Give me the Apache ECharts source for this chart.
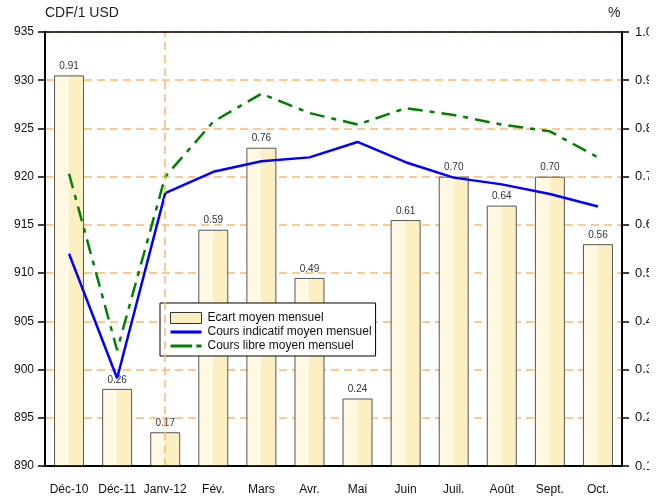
<!DOCTYPE html>
<html>
<head>
<meta charset="utf-8">
<script src="https://cdn.jsdelivr.net/npm/echarts@6/dist/echarts.min.js"></script>
<style>
  html, body { margin: 0; padding: 0; background: #fff; }
  #chart { width: 649px; height: 503px; }
</style>
</head>
<body>
<div id="chart"></div>
<script>
// mois
const categories = ['Déc-10', 'Déc-11', 'Janv-12', 'Fév.', 'Mars', 'Avr.', 'Mai', 'Juin', 'Juil.', 'Août', 'Sept.', 'Oct.']
// écart moyen mensuel (%), axe de droite
const ecart = [0.91, 0.26, 0.17, 0.59, 0.76, 0.49, 0.24, 0.61, 0.70, 0.64, 0.70, 0.56]
// CDF/1 USD, axe de gauche
const coursIndicatif = [912.0, 899.1, 918.3, 920.5, 921.6, 922.0, 923.6, 921.5, 919.9, 919.2, 918.2, 916.9]
const coursLibre = [920.3, 902.0, 920.0, 925.7, 928.6, 926.6, 925.4, 927.1, 926.4, 925.4, 924.7, 922.0]

const font = 'Liberation Sans, Arial, sans-serif'
const gridColor = '#ffb866'

const chart = echarts.init(document.getElementById('chart'), null, { renderer: 'canvas' })

chart.setOption({
  animation: false,
  backgroundColor: '#fff',
  textStyle: { fontFamily: font },
  grid: { left: 45, right: 27, top: 32, bottom: 37, outerBoundsMode: 'none' },
  graphic: [
    { type: 'text', left: 45, top: 6, style: { text: 'CDF/1 USD', font: '14px ' + font, fill: '#222' } },
    { type: 'text', left: 608, top: 6, style: { text: '%', font: '14px ' + font, fill: '#222' } },
    // cadre : trait du haut et de droite
    { type: 'rect', shape: { x: 45, y: 32, width: 577, height: 434 }, style: { fill: 'none', stroke: '#000', lineWidth: 1.5 }, z: 10, silent: true },
  ],
  legend: {
    orient: 'vertical',
    left: 160,
    top: 303,
    backgroundColor: '#fff',
    borderColor: '#000',
    borderWidth: 1,
    borderRadius: 0,
    padding: [9, 4, 4, 10],
    itemGap: 2,
    itemWidth: 31,
    itemHeight: 11,
    textStyle: { fontFamily: font, fontSize: 12, color: '#111', padding: [0, 0, 0, 1] },
    data: [
      { name: 'Ecart moyen mensuel', icon: 'rect', itemStyle: { color: '#fcf0c3', borderColor: '#333', borderWidth: 1 } },
      { name: 'Cours indicatif moyen mensuel', icon: 'path://M0,4L30,4L30,7L0,7Z' },
      { name: 'Cours libre moyen mensuel', icon: 'path://M0,4L21,4L21,7L0,7ZM25,4L30,4L30,7L25,7Z' },
    ],
  },
  xAxis: {
    type: 'category',
    data: categories,
    axisLine: { lineStyle: { color: '#000', width: 2 } },
    axisTick: { show: false },
    axisLabel: { color: '#111', fontSize: 12, margin: 18, fontFamily: font, interval: 0 },
    splitLine: { show: false },
  },
  yAxis: [
    {
      type: 'value',
      min: 890,
      max: 935,
      interval: 5,
      axisLine: { show: true, lineStyle: { color: '#000', width: 2 } },
      axisTick: { show: true, length: 7, lineStyle: { color: '#000', width: 1.5 } },
      axisLabel: { color: '#111', fontSize: 12, margin: 11, fontFamily: font },
      splitLine: { show: true, lineStyle: { color: gridColor, type: [8, 5], width: 1.5 } },
    },
    {
      type: 'value',
      min: 0.1,
      max: 1.0,
      interval: 0.1,
      position: 'right',
      axisLine: { show: true, lineStyle: { color: '#000', width: 2 } },
      axisTick: { show: true, length: 7, lineStyle: { color: '#000', width: 1.5 } },
      axisLabel: { color: '#111', fontSize: 13, margin: 13, fontFamily: font, formatter: v => v.toFixed(1) },
      splitLine: { show: false },
    },
  ],
  series: [
    {
      name: 'Ecart moyen mensuel',
      type: 'bar',
      yAxisIndex: 1,
      data: ecart,
      barWidth: 30,
      itemStyle: {
        color: new echarts.graphic.LinearGradient(0, 0, 1, 0, [
          { offset: 0, color: '#fff8e2' },
          { offset: 0.5, color: '#fff8e2' },
          { offset: 0.5, color: '#fcf0c3' },
          { offset: 1, color: '#fcf0c3' },
        ]),
        borderColor: '#555',
        borderWidth: 1,
      },
      label: {
        show: true,
        position: 'top',
        distance: 4,
        fontSize: 10,
        color: '#333',
        fontFamily: font,
        formatter: p => p.value.toFixed(2),
      },
      markLine: {
        silent: true,
        symbol: 'none',
        label: { show: false },
        lineStyle: { color: gridColor, type: [8, 5], width: 1.5 },
        data: [{ xAxis: 1.5 }],
      },
      z: 2,
    },
    {
      name: 'Cours indicatif moyen mensuel',
      type: 'line',
      yAxisIndex: 0,
      data: coursIndicatif,
      symbol: 'none',
      lineStyle: { color: '#0000ff', width: 2.5 },
      itemStyle: { color: '#0000ff' },
      z: 3,
    },
    {
      name: 'Cours libre moyen mensuel',
      type: 'line',
      yAxisIndex: 0,
      data: coursLibre,
      symbol: 'none',
      lineStyle: { color: '#008000', width: 2.5, type: [15, 7, 5, 7] },
      itemStyle: { color: '#008000' },
      z: 3,
    },
  ],
})
</script>
</body>
</html>
